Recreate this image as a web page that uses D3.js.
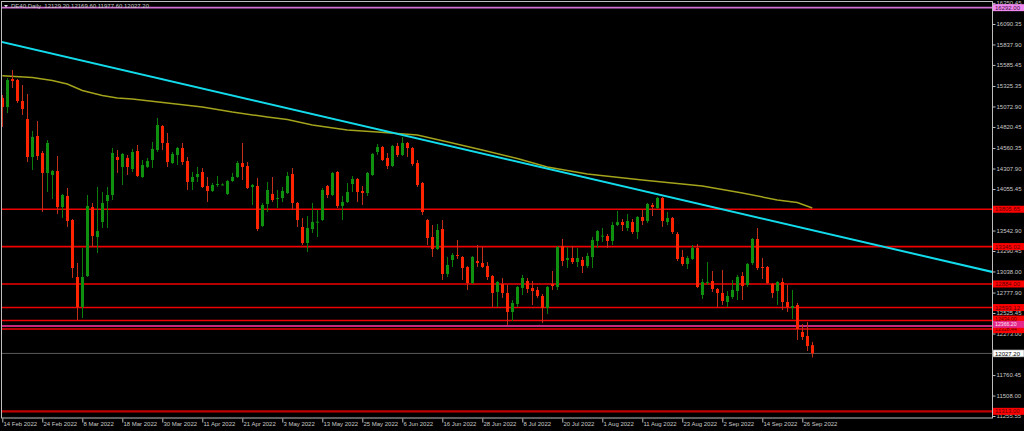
<!DOCTYPE html>
<html><head><meta charset="utf-8">
<script src="https://cdn.jsdelivr.net/npm/d3@7"></script>
<style>html,body{margin:0;padding:0;background:#000;overflow:hidden}</style>
</head><body><svg id="c" width="1024" height="431"></svg>
<script>
// ---- data (DE40 Daily, bar index 0 = 14 Feb 2022, one bar per weekday) ----
const open=[15178,15067,15412,15400,15141,14919,14450,14709,14499,14253,14228,14277,13833,13969,13673,12970,12600,12982,13833,13463,13648,13907,13981,14450,14327,14438,14302,14524,14203,14327,14413,14536,14832,14623,14376,14475,14561,14401,14142,14203,14265,14092,14031,14112,14110,13994,14154,14203,14376,14339,14080,14092,13599,13870,13994,13932,13944,14006,14240,13883,13587,13389,13562,13640,13673,14092,13981,14265,13846,13895,14117,14179,14031,14006,14228,14512,14573,14438,14339,14586,14475,14623,14561,14376,14129,13673,13463,13315,13562,13007,13180,13241,13217,13093,12896,13167,13143,13106,12982,12785,12884,12773,12538,12637,12834,12921,12834,12810,12736,12588,12884,12847,13352,13180,13204,13155,13180,13106,13217,13414,13475,13476,13414,13611,13648,13574,13648,13525,13710,13661,13858,13821,13944,13648,13698,13500,13217,13130,13192,13328,12748,12905,12921,12822,12773,12662,12723,12797,12982,12871,13143,13439,13093,13093,12884,12797,12908,12662,12588,12625,12292,12242,12129.2];
const high=[15215,15424,15523,15412,15338,15227,14771,14894,14524,14660,14290,14462,13994,14068,13685,13143,13328,13981,13883,14080,14018,14080,14561,14536,14499,14475,14549,14598,14413,14438,14635,14931,14845,14746,14512,14573,14623,14450,14265,14327,14314,14203,14129,14216,14125,14166,14253,14401,14623,14388,14117,14191,13883,14142,14203,14043,14080,14265,14314,13895,13698,13722,13883,13796,14068,14105,14265,14277,13969,14129,14216,14191,14092,14265,14499,14610,14586,14499,14598,14623,14697,14635,14573,14413,14142,13685,13611,13624,13673,13217,13266,13426,13229,13106,13229,13365,13340,13155,12995,12921,12958,12871,12686,12859,12995,12958,12921,12847,12760,12859,13044,13352,13439,13340,13352,13328,13217,13266,13463,13550,13574,13500,13648,13784,13685,13747,13685,13722,13796,13883,13883,13957,13957,13772,13710,13525,13303,13229,13365,13377,12945,13155,13044,12834,13056,12797,12933,12995,13032,13143,13451,13574,13204,13106,12896,12921,12958,12871,12810,12649,12390,12415,12169.6];
const low=[14820,14993,15301,15116,14968,14388,14290,14413,13772,14018,13932,13747,13698,13587,12958,12440,12464,12970,13340,13266,13574,13574,13920,14253,14105,14228,14265,14203,14191,14314,14314,14512,14536,14327,14364,14351,14351,14043,14043,14142,14068,13895,14018,14080,14100,13981,14142,14191,14166,14055,13858,13537,13587,13772,13895,13821,13895,13994,13796,13587,13365,13278,13513,13463,13661,13944,13969,13821,13673,13883,14018,13895,13858,13969,14216,14475,14401,14302,14327,14450,14462,14450,14339,14080,13735,13365,13217,13303,12933,12970,13093,13192,12933,12810,12884,13093,13081,12933,12600,12600,12711,12378,12427,12600,12748,12773,12625,12711,12403,12514,12810,12810,13106,13081,13130,13093,13019,13081,13081,13328,13402,13328,13365,13599,13537,13537,13500,13439,13611,13636,13722,13809,13587,13611,13500,13167,13106,13069,13180,12834,12699,12871,12785,12600,12625,12600,12699,12686,12686,12847,13118,13056,12945,12884,12711,12625,12563,12538,12452,12193,12193,12057,11977.6];
const close=[15067,15400,15387,15141,15042,14450,14697,14462,14253,14623,14277,13833,13981,13661,13081,12600,12970,13846,13476,13537,13883,13981,14499,14413,14487,14327,14512,14216,14351,14401,14549,14845,14623,14388,14487,14561,14388,14142,14203,14240,14080,14031,14105,14117,14112,14154,14203,14376,14327,14068,14105,13562,13858,14043,13920,13944,14031,14216,13883,13673,13389,13574,13648,13652,14043,13981,14253,13846,13895,14018,14179,14018,14006,14253,14487,14573,14413,14339,14586,14475,14623,14561,14364,14105,13772,13451,13315,13550,13007,13118,13241,13229,13081,12896,13217,13143,13093,12970,12773,12908,12773,12538,12649,12847,12958,12822,12797,12736,12588,12847,12859,13340,13167,13204,13155,13204,13106,13229,13426,13537,13480,13414,13611,13648,13611,13661,13525,13710,13661,13870,13833,13944,13661,13698,13525,13192,13130,13204,13328,12847,12908,12910,12822,12773,12674,12736,12810,12970,12859,13130,13439,13081,13081,12896,12773,12908,12662,12600,12612,12329,12230,12119,12027.2];

// moving average read at selected bars
const maIdx=[0,6,10,13,16,20,23,26,33,40,46,53,57,62,69,75,83,90,96,103,109,117,128,136,140,148,155,159,162];
const maVal=[15453,15430,15393,15350,15270,15208,15178,15165,15116,15067,15005,14943,14912,14845,14783,14758,14721,14623,14536,14431,14327,14240,14166,14117,14092,14006,13920,13889,13821];

// trend line anchors (bar index, price)
const trendIdx=[0,198];
const trendVal=[15868,13032];

// horizontal levels
const levelVals=[16292.00,13805.65,13345.02,12884.00,12593.12,12434.00,12328.44,12366.20,11313.00];
const levelKind=["violet","red","red","red","red","red","red","magenta","redDark"];
const lastPrice=12027.20;

// axis ticks
const priceTicks=[16350.45,16090.35,15837.90,15585.45,15325.35,15072.90,14820.45,14560.35,14307.90,14055.45,13795.35,13542.90,13290.45,13038.00,12777.90,12525.45,12273.00,12012.90,11760.45,11508.00,11255.55];
const dateTickIdx=[0,8,16,24,32,40,48,56,64,72,80,88,96,104,112,120,128,136,144,152,160];
const dateTickLabels=["14 Feb 2022","24 Feb 2022","8 Mar 2022","18 Mar 2022","30 Mar 2022","11 Apr 2022","21 Apr 2022","3 May 2022","13 May 2022","25 May 2022","6 Jun 2022","16 Jun 2022","28 Jun 2022","8 Jul 2022","20 Jul 2022","1 Aug 2022","11 Aug 2022","23 Aug 2022","2 Sep 2022","14 Sep 2022","26 Sep 2022"];
const titleText="DE40,Daily  12129.20 12169.60 11977.60 12027.20";

// ---- drawing ----
const W=1024,H=431;
const FONT="'Liberation Sans', Arial, sans-serif";
const FS=6;
const svg=d3.select('#c');
svg.append('rect').attr('width',W).attr('height',H).attr('fill','#000');

const x=d3.scaleLinear().domain([0,198]).range([2.3,992.3]);
const y=d3.scaleLinear().domain([11255.55,16090.35]).range([416,24]);
const PL=2,PR=992,PT=2,PB=418;

svg.append('defs').append('clipPath').attr('id','clip')
  .append('rect').attr('x',PL).attr('y',PT).attr('width',PR-PL).attr('height',PB-PT);
const plot=svg.append('g').attr('clip-path','url(#clip)');

const lvlColor={violet:'#d36fd3',red:'#f00000',magenta:'#c8287c',redDark:'#c00000'};
const lvlWidth={violet:1.6,red:1.6,magenta:2,redDark:2.2};

// horizontal level lines
plot.selectAll('line.lvl').data(levelVals).enter().append('line')
  .attr('x1',PL).attr('x2',PR)
  .attr('y1',d=>y(d)).attr('y2',d=>y(d))
  .attr('stroke',(d,i)=>lvlColor[levelKind[i]])
  .attr('stroke-width',(d,i)=>lvlWidth[levelKind[i]]);
// last price line
plot.append('line').attr('x1',PL).attr('x2',PR)
  .attr('y1',y(lastPrice)).attr('y2',y(lastPrice))
  .attr('stroke','#5a5a5a').attr('stroke-width',1);

// moving average
const maLine=d3.line().x(d=>x(d[0])).y(d=>y(d[1]));
plot.append('path').datum(maIdx.map((d,i)=>[d,maVal[i]]))
  .attr('d',maLine).attr('fill','none').attr('stroke','#a3a31c').attr('stroke-width',1.5);

// trend line (extended across plot)
const slope=(trendVal[1]-trendVal[0])/(trendIdx[1]-trendIdx[0]);
const tPts=[-1,199].map(i=>[i,trendVal[0]+slope*(i-trendIdx[0])]);
plot.append('path').datum(tPts).attr('d',maLine)
  .attr('fill','none').attr('stroke','#12dcec').attr('stroke-width',2);

// candles
const bars=open.map((o,i)=>({i,o,h:high[i],l:low[i],c:close[i]}));
const bw=3;
const cg=plot.append('g');
const up=d=>d.c>=d.o;
cg.selectAll('line.w').data(bars).enter().append('line')
  .attr('x1',d=>Math.round(x(d.i))+0.5).attr('x2',d=>Math.round(x(d.i))+0.5)
  .attr('y1',d=>y(d.h)).attr('y2',d=>y(d.l))
  .attr('stroke',d=>up(d)?'#0a7d0a':'#c2301a').attr('stroke-width',1);
cg.selectAll('rect.b').data(bars).enter().append('rect')
  .attr('x',d=>Math.round(x(d.i))-1)
  .attr('width',bw)
  .attr('y',d=>Math.min(y(d.o),y(d.c)))
  .attr('height',d=>Math.max(1,Math.abs(y(d.o)-y(d.c))))
  .attr('fill',d=>up(d)?'#0f900f':'#ff2400');

// frame
svg.append('rect').attr('x',1.5).attr('y',1.5).attr('width',PR-1.5+0.5).attr('height',PB-1.5)
  .attr('fill','none').attr('stroke','#bdbdbd').attr('stroke-width',1);

// right price axis
const ay=d3.axisRight(y).tickValues(priceTicks).tickFormat(d3.format('.2f')).tickSize(3).tickPadding(1);
const gy=svg.append('g').attr('transform',`translate(${PR+0.5},0)`).call(ay);
gy.select('.domain').remove();
gy.selectAll('line').attr('stroke','#bdbdbd');
gy.selectAll('text').attr('fill','#c8c8c8').style('font-family',FONT).style('font-size',FS+'px');

// bottom date axis
const ax=d3.axisBottom(x).tickValues(dateTickIdx).tickFormat((d,i)=>dateTickLabels[i]).tickSize(4);
const gx=svg.append('g').attr('transform',`translate(0,${PB+0.5})`).call(ax);
gx.select('.domain').remove();
gx.selectAll('line').attr('stroke','#bdbdbd');
gx.selectAll('text').attr('fill','#c8c8c8').style('font-family',FONT).style('font-size',FS+'px')
  .attr('text-anchor','start').attr('dx','0.1em').attr('y',3).attr('dy','0.71em');

// level labels on axis (small nudges keep the stacked labels readable)
const boxStyle={violet:['#ee88ee','#3a103a'],red:['#ff0000','#5a0000'],magenta:['#e4288c','#ffe2f0'],redDark:['#ff0000','#5a0000']};
const nudge={12434:-1.4,12366.2:-1.6,12328.44:0.6};
const lab=svg.append('g');
function label(v,bg,fg,stroke,fs){
  const yy=y(v)+(nudge[v]||0);
  const g=lab.append('g').attr('transform',`translate(993,${yy})`);
  g.append('rect').attr('x',0).attr('y',-3.5).attr('width',31).attr('height',7).attr('fill',bg)
   .attr('stroke',stroke||'none').attr('stroke-width',0.6);
  g.append('text').attr('x',2).attr('y',0).attr('dy','0.35em').text(d3.format('.2f')(v))
   .attr('fill',fg).style('font-family',FONT).style('font-size',(fs||FS)+'px');
}
levelVals.forEach((v,i)=>{const s=boxStyle[levelKind[i]];
  label(v,s[0],s[1],null,(v===12434||v===12366.2||v===12328.44)?5.2:FS);});
label(lastPrice,'#ffffff','#000000','#888');

// title
svg.append('path').attr('d','M4,5 L8,5 L6,7.5 Z').attr('fill','#e0e0e0');
svg.append('text').attr('x',11).attr('y',8).text(titleText)
  .attr('fill','#c8c8c8').style('font-family',FONT).style('font-size',FS+'px')
  .style('white-space','pre').attr('xml:space','preserve');
</script></body></html>
